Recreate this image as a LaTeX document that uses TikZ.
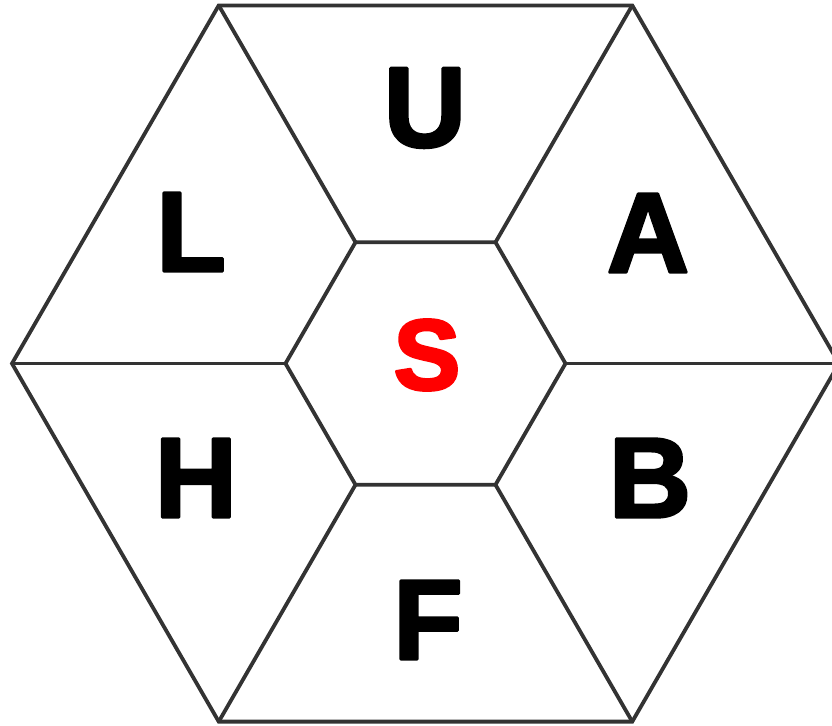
\documentclass[tikz,border=0pt]{standalone}
\usepackage{fontspec}
\setmainfont{Liberation Sans}
\usepackage{tikz}
\usetikzlibrary{calc}
\definecolor{hexline}{RGB}{51,51,51}
\definecolor{centred}{RGB}{255,0,0}
% rounded, slightly heavier glyphs: fill and stroke the outline
\newcommand{\roundglyph}[1]{\special{pdf:code 2 Tr 1.5 w 1 J 1 j}#1\special{pdf:code 0 Tr}}
\tikzset{
  hexedge/.style={draw=hexline, line width=1.9pt, line join=miter},
  letter/.style={font=\fontsize{57}{57}\selectfont\bfseries, text=black, inner sep=0pt},
}

\begin{document}
\begin{tikzpicture}[x=0.5pt, y=-0.5pt]
  \useasboundingbox (0,0) rectangle (832,725);
  \coordinate (c) at (425.5,363.5);
  % outer and inner hexagon corners
  \foreach \i/\a in {1/0,2/60,3/120,4/180,5/240,6/300} {
    \coordinate (o\i) at ($(c)+(\a:413.5)$);
    \coordinate (n\i) at ($(c)+(\a:140)$);
  }
  \begin{scope}
    \clip (0,0) rectangle (832,725);
    \draw[hexedge] (o1) -- (o2) -- (o3) -- (o4) -- (o5) -- (o6) -- cycle;
    \draw[hexedge] (n1) -- (n2) -- (n3) -- (n4) -- (n5) -- (n6) -- cycle;
    \foreach \i in {1,...,6}
      \draw[hexedge] (n\i) -- (o\i);
  \end{scope}

  \node[letter] (up) at (425,108) {\roundglyph{U}};
  \node[letter] (ab) at (648,233) {\roundglyph{A}};
  \node[letter] (bo) at (650,478) {\roundglyph{B}};
  \node[letter] (fr) at (428,620) {\roundglyph{F}};
  \node[letter] (hi) at (196,478) {\roundglyph{H}};
  \node[letter] (le) at (191,232) {\roundglyph{L}};
  \node[letter, text=centred, font=\fontsize{50}{50}\selectfont\bfseries] (sd) at (427,355) {\roundglyph{S}};
\end{tikzpicture}
\end{document}
